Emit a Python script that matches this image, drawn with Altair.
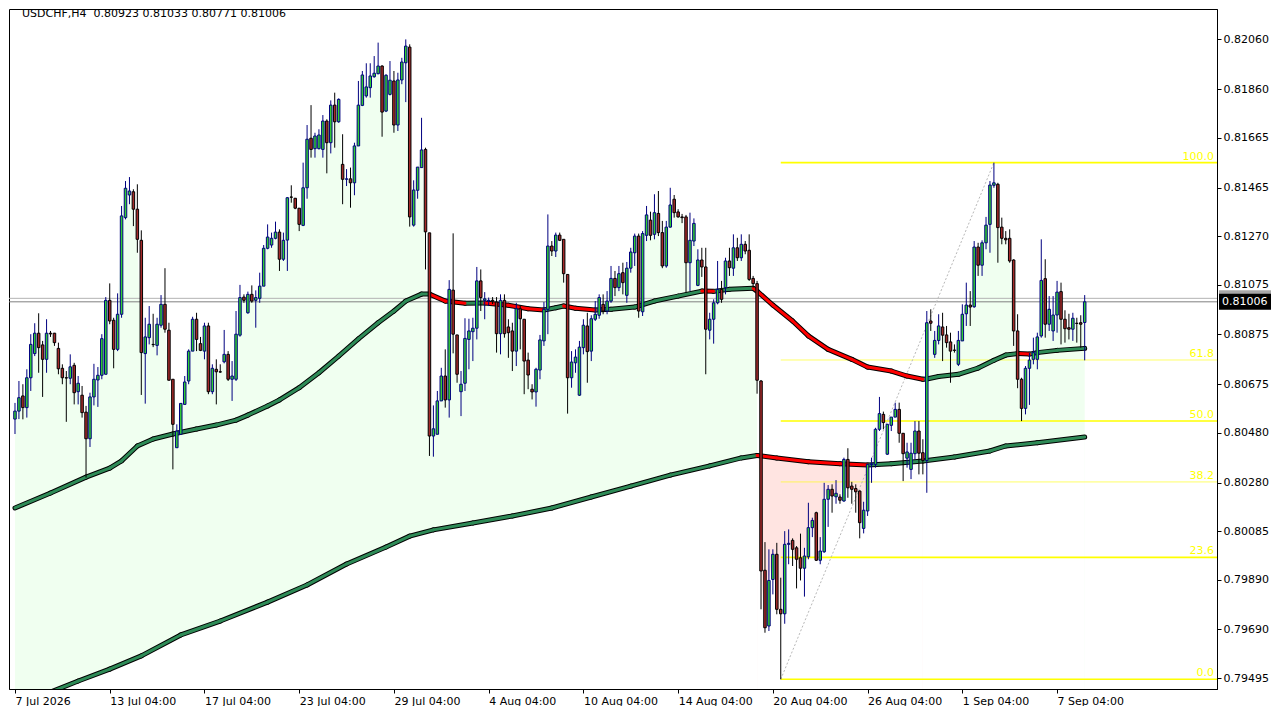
import altair as alt
import pandas as pd

# ---------------- data (prices in 1e-5 units) ----------------
opens = [
    80535, 80567, 80628, 80581, 80701, 80798, 80880, 80833, 80775, 80880,
    80880, 80819, 80739, 80701, 80699, 80751, 80645, 80631, 80563, 80456,
    80624, 80692, 80711, 80715, 81012, 80932, 80815, 80956, 81344, 81435,
    81448, 81378, 81253, 80798, 80862, 80835, 80831, 80912, 80996, 80892,
    80695, 80420, 80474, 80594, 80688, 80808, 80936, 80838, 80808, 80909,
    80645, 80735, 80725, 80765, 80795, 80695, 80695, 80872, 81025, 80962,
    81036, 81012, 81020, 81069, 81221, 81234, 81261, 81286, 81177, 81254,
    81427, 81422, 81382, 81313, 81464, 81663, 81621, 81621, 81618, 81732,
    81645, 81796, 81729, 81558, 81498, 81500, 81484, 81632, 81795, 81833,
    81866, 81910, 81922, 81953, 81772, 81839, 81893, 81716, 81897, 81966,
    82029, 81314, 81454, 81545, 81618, 81283, 80467, 80474, 80608, 80708,
    80612, 81053, 80873, 80645, 80679, 80855, 80886, 80900, 81090, 81012,
    81009, 81012, 81005, 80878, 81012, 80905, 80889, 80808, 80978, 80936,
    80772, 80655, 80644, 80732, 80849, 80976, 81230, 81210, 81274, 81257,
    81116, 80701, 80761, 80631, 80822, 80909, 80808, 80936, 80952, 80996,
    80969, 81009, 81100, 81063, 81123, 81032, 81141, 81203, 81270, 80966,
    81273, 81334, 81277, 81361, 81284, 81150, 81306, 81418, 81367, 81347,
    81347, 81163, 81250, 81072, 81174, 81146, 80892, 80936, 81002, 81056,
    81063, 81170, 81141, 81223, 81183, 81237, 81213, 81100, 81079, 80688,
    79928, 79704, 79891, 79992, 79771, 79753, 80032, 80048, 80018, 79978,
    79936, 79982, 80099, 80159, 79968, 80002, 80213, 80253, 80223, 80222,
    80206, 80373, 80266, 80256, 80246, 80096, 80166, 80353, 80353, 80494,
    80554, 80394, 80510, 80543, 80574, 80478, 80378, 80333, 80396, 80487,
    80400, 80369, 80929, 80795, 80851, 80905, 80873, 80845, 80812, 80755,
    80849, 80958, 80993, 80986, 81226, 81153, 81243, 81317, 81474, 81478,
    81306, 81261, 81261, 81174, 80889, 80695, 80578, 80739, 80775, 80775,
    80869, 81099, 80916, 80889, 80953, 81047, 80936, 80902, 80896, 80920,
    80922, 80923,
]
highs = [
    80600, 80688, 80675, 80735, 80876, 80920, 80960, 80849, 80936, 80889,
    80881, 80842, 80755, 80728, 80795, 80761, 80708, 80668, 80588, 80641,
    80757, 80744, 80876, 81025, 81080, 80942, 81040, 81391, 81491, 81507,
    81458, 81478, 81293, 80942, 80989, 80958, 80942, 81033, 81141, 80922,
    80695, 80514, 80598, 80708, 80815, 80946, 80962, 80865, 80922, 80922,
    80755, 80775, 80755, 80893, 80808, 80768, 80969, 81074, 81036, 81047,
    81072, 81052, 81123, 81234, 81317, 81284, 81328, 81297, 81284, 81427,
    81474, 81423, 81382, 81565, 81716, 81796, 81685, 81699, 81756, 81739,
    81815, 81846, 81823, 81679, 81539, 81545, 81645, 81893, 81933, 81964,
    81964, 81993, 82047, 81956, 81920, 81973, 81933, 81926, 81986, 82060,
    82040, 81494, 81547, 81745, 81625, 81283, 80590, 80648, 80741, 80815,
    81093, 81281, 80873, 80728, 80940, 80938, 80942, 81146, 81136, 81045,
    81023, 81025, 81025, 81036, 81036, 80936, 80922, 81002, 80992, 80936,
    80802, 80675, 80741, 80873, 81005, 81357, 81250, 81284, 81284, 81257,
    81116, 80808, 80815, 80849, 80936, 80962, 80952, 81009, 81036, 81036,
    81049, 81150, 81130, 81150, 81163, 81166, 81223, 81280, 81280, 81290,
    81391, 81368, 81438, 81451, 81331, 81331, 81464, 81435, 81378, 81359,
    81355, 81364, 81341, 81217, 81223, 81223, 80962, 81016, 81170, 81090,
    81183, 81223, 81277, 81263, 81277, 81250, 81277, 81110, 81090, 80692,
    80041, 80012, 80012, 80038, 79898, 80085, 80092, 80056, 80025, 80075,
    80018, 80199, 80139, 80163, 80061, 80279, 80270, 80273, 80290, 80233,
    80380, 80418, 80283, 80273, 80249, 80203, 80356, 80380, 80500, 80624,
    80565, 80516, 80543, 80601, 80601, 80479, 80440, 80440, 80527, 80527,
    80454, 80969, 80976, 80889, 80956, 80962, 80909, 80882, 80835, 80889,
    80996, 81083, 81049, 81250, 81243, 81253, 81347, 81491, 81565, 81484,
    81344, 81290, 81297, 81177, 80956, 80701, 80748, 80800, 80862, 80882,
    81257, 81177, 81029, 81029, 81090, 81083, 80972, 80958, 80962, 80942,
    80952, 81033,
]
lows = [
    80475, 80535, 80534, 80541, 80648, 80788, 80721, 80624, 80721, 80865,
    80829, 80715, 80675, 80524, 80675, 80594, 80594, 80541, 80300, 80423,
    80590, 80584, 80695, 80715, 80916, 80739, 80808, 80942, 81337, 81398,
    81310, 81203, 80632, 80597, 80835, 80824, 80791, 80902, 80882, 80691,
    80333, 80420, 80474, 80594, 80675, 80808, 80808, 80808, 80775, 80635,
    80635, 80594, 80721, 80759, 80688, 80608, 80688, 80866, 81002, 80958,
    81002, 80902, 81002, 81069, 81217, 81223, 81257, 81130, 81170, 81130,
    81404, 81378, 81290, 81310, 81420, 81585, 81585, 81618, 81585, 81522,
    81602, 81625, 81725, 81398, 81471, 81384, 81434, 81632, 81792, 81826,
    81826, 81906, 81920, 81669, 81768, 81835, 81685, 81692, 81880, 81808,
    81308, 81308, 81420, 81545, 81136, 80387, 80384, 80474, 80608, 80581,
    80541, 80799, 80681, 80547, 80648, 80735, 80768, 80855, 80969, 80936,
    80989, 80997, 80802, 80795, 80862, 80781, 80728, 80748, 80815, 80635,
    80655, 80614, 80585, 80695, 80829, 80876, 81190, 81186, 81250, 81083,
    80557, 80661, 80721, 80628, 80795, 80681, 80768, 80929, 80938, 80956,
    80956, 81002, 81029, 81049, 81036, 81002, 81123, 81150, 80942, 80949,
    81250, 81253, 81257, 81270, 81141, 81143, 81304, 81344, 81344, 81322,
    81043, 81049, 81230, 81069, 81106, 80715, 80855, 80838, 80996, 81002,
    81036, 81110, 81110, 81170, 81170, 81197, 81090, 81063, 80637, 79771,
    79677, 79684, 79831, 79751, 79490, 79713, 79952, 79945, 79855, 79887,
    79822, 79972, 80061, 79965, 79952, 79998, 80102, 80159, 80195, 80195,
    80203, 80219, 80195, 80159, 80056, 80076, 80146, 80279, 80340, 80487,
    80494, 80391, 80487, 80543, 80440, 80286, 80340, 80294, 80373, 80313,
    80313, 80239, 80889, 80781, 80835, 80768, 80822, 80681, 80802, 80748,
    80849, 80909, 80909, 80982, 81110, 81110, 81217, 81203, 81464, 81163,
    81237, 81237, 81163, 80829, 80659, 80527, 80554, 80592, 80755, 80735,
    80862, 80862, 80889, 80849, 80882, 80835, 80842, 80855, 80849, 80842,
    80822, 80771,
]
closes = [
    80567, 80621, 80581, 80701, 80835, 80880, 80822, 80775, 80880, 80877,
    80842, 80737, 80701, 80700, 80745, 80641, 80679, 80561, 80456, 80624,
    80695, 80711, 80858, 81012, 80929, 80815, 80956, 81351, 81462, 81451,
    81378, 81257, 80802, 80865, 80916, 80834, 80916, 80996, 80896, 80691,
    80514, 80487, 80598, 80684, 80808, 80936, 80855, 80811, 80909, 80645,
    80739, 80725, 80724, 80795, 80695, 80708, 80876, 81023, 81012, 81036,
    81009, 81023, 81069, 81221, 81266, 81261, 81286, 81177, 81253, 81424,
    81426, 81382, 81317, 81464, 81659, 81618, 81672, 81676, 81732, 81645,
    81796, 81729, 81819, 81498, 81500, 81484, 81632, 81796, 81917, 81869,
    81913, 81924, 81953, 81768, 81916, 81896, 81716, 81897, 81969, 82033,
    81347, 81455, 81547, 81616, 81287, 80467, 80496, 80608, 80708, 80612,
    81056, 80876, 80715, 80675, 80859, 80889, 80900, 81090, 81023, 81018,
    81012, 81009, 80878, 81012, 80878, 80882, 80808, 80978, 80938, 80768,
    80712, 80644, 80735, 80853, 80976, 81230, 81210, 81274, 81253, 81119,
    80701, 80764, 80784, 80824, 80912, 80806, 80938, 80956, 81023, 80969,
    81009, 81100, 81063, 81119, 81083, 81141, 81206, 81270, 80969, 81280,
    81355, 81273, 81364, 81284, 81150, 81306, 81395, 81364, 81347, 81344,
    81163, 81253, 81321, 81174, 81146, 80896, 80936, 81002, 81056, 81016,
    81170, 81143, 81223, 81183, 81237, 81210, 81096, 81079, 80691, 79925,
    79697, 79887, 79992, 79771, 79753, 80032, 80036, 80012, 79972, 79936,
    79985, 80099, 80128, 79968, 80005, 80213, 80253, 80226, 80237, 80209,
    80373, 80259, 80253, 80243, 80119, 80169, 80353, 80355, 80494, 80557,
    80521, 80514, 80543, 80574, 80478, 80396, 80403, 80398, 80487, 80398,
    80369, 80922, 80920, 80851, 80909, 80872, 80842, 80808, 80811, 80851,
    80956, 80993, 80985, 81226, 81153, 81243, 81314, 81475, 81484, 81304,
    81261, 81255, 81170, 80889, 80695, 80578, 80739, 80772, 80802, 80865,
    81092, 80916, 80976, 80953, 81045, 80936, 80898, 80896, 80940, 80919,
    80916, 81006,
]

# moving averages read at knots (bar index, price)
fast_idx = [0, 9, 18, 24, 27, 31, 35, 40, 46, 51, 56, 59, 64, 67, 72, 77, 82, 87, 92, 96,
            99, 103, 105, 109, 114, 119, 125, 130, 134, 137, 139, 142, 147, 151, 157, 162,
            168, 174, 177, 181, 187, 188, 192, 197, 201, 206, 212, 216, 222, 226, 230, 231,
            234, 239, 244, 248, 251, 254, 257, 259, 264, 271]
fast_val = [80178, 80238, 80302, 80338, 80367, 80427, 80455, 80475, 80495, 80511, 80531,
            80551, 80588, 80612, 80661, 80721, 80788, 80857, 80922, 80969, 81009, 81037,
            81037, 81009, 81000, 81001, 80992, 80978, 80973, 80982, 80989, 80980, 80973,
            80976, 80985, 81009, 81029, 81049, 81048, 81056, 81060, 81049, 80993, 80929,
            80869, 80815, 80775, 80744, 80728, 80708, 80695, 80696, 80706, 80715, 80740,
            80771, 80792, 80798, 80796, 80802, 80811, 80819]
slow_idx = [0, 4, 16, 24, 32, 42, 52, 64, 74, 84, 94, 100, 106, 116, 126, 136, 146, 156,
            166, 176, 184, 188, 193, 201, 209, 216, 222, 230, 238, 247, 251, 259, 271]
slow_val = [79387, 79407, 79483, 79531, 79584, 79668, 79724, 79800, 79869, 79953, 80021,
            80065, 80090, 80118, 80146, 80178, 80222, 80266, 80310, 80347, 80379, 80389,
            80379, 80364, 80356, 80351, 80356, 80367, 80383, 80407, 80427, 80440, 80463]

# cloud state between price and slow MA: (first bar, last bar, side)
fill_zones = [(0, 188, "above"), (188, 230, "below"), (231, 271, "above")]

# fibonacci retracement anchors
fib_low_idx, fib_low = 194, 79490
fib_high_idx, fib_high = 248, 81565
fib_levels = [0.0, 23.6, 38.2, 50.0, 61.8, 100.0]

ask_price = 81020
symbol = "USDCHF,H4"

x_label_idx = [0, 24, 48, 72, 96, 120, 144, 168, 192, 216, 240, 264]
x_labels = ["7 Jul 2026", "13 Jul 04:00", "17 Jul 04:00", "23 Jul 04:00", "29 Jul 04:00",
            "4 Aug 04:00", "10 Aug 04:00", "14 Aug 04:00", "20 Aug 04:00", "26 Aug 04:00",
            "1 Sep 04:00", "7 Sep 04:00"]
y_ticks = [0.82060, 0.81860, 0.81665, 0.81465, 0.81270, 0.81075, 0.80875, 0.80675,
           0.80480, 0.80280, 0.80085, 0.79890, 0.79690, 0.79495]

# ---------------- frames ----------------
P = 1e-5
n = len(closes)
df = pd.DataFrame({
    "i": list(range(n)),
    "o": [v * P for v in opens],
    "h": [v * P for v in highs],
    "l": [v * P for v in lows],
    "c": [v * P for v in closes],
})
df["top"] = df[["o", "c"]].max(axis=1)
df["bot"] = df[["o", "c"]].min(axis=1)
bull = df[df["c"] >= df["o"]]
bear = df[df["c"] < df["o"]]

W, H = 1208, 680
Y_LO, Y_HI = 0.79451, 0.82182
X_LO, X_HI = -0.25, 303.25
FONT = "DejaVu Sans"

xs = alt.Scale(domain=[X_LO, X_HI], nice=False, zero=False)
ys = alt.Scale(domain=[Y_LO, Y_HI], nice=False, zero=False)
label_expr = "[" + ",".join("'" + s + "'" for s in x_labels) + "][round(datum.value / 24)]"
xax = alt.Axis(values=x_label_idx, labelExpr=label_expr, title=None, grid=False, tickSize=4,
               labelAlign="left", labelBaseline="top", labelPadding=2, labelOverlap=False,
               labelFlush=False)
yax = alt.Axis(orient="right", values=y_ticks, format=".5f", title=None, grid=False,
               tickSize=4, labelPadding=2, labelOverlap=False, labelFlush=False)


def ex(f):
    return alt.X(f + ":Q", scale=xs, axis=xax)


def ey(f):
    return alt.Y(f + ":Q", scale=ys, axis=yax)


# cloud fill
zone_rows = []
for z, (a, b, side) in enumerate(fill_zones):
    for i in range(a, b + 1):
        zone_rows.append({"i": i, "c": closes[i] * P, "zone": z, "side": side, "base": Y_LO})
zdf = pd.DataFrame(zone_rows)
above = zdf[zdf["side"] == "above"]
below = zdf[zdf["side"] == "below"]
slow_df = pd.DataFrame({"i": slow_idx, "v": [v * P for v in slow_val], "base": Y_LO})
b_lo, b_hi = below["i"].min(), below["i"].max()
slow_bear = slow_df[(slow_df["i"] >= b_lo) & (slow_df["i"] <= b_hi)]

green_fill = alt.Chart(above).mark_area(color="#F0FFF0", opacity=1, clip=True).encode(
    x=ex("i"), y=ey("c"), y2="base", detail="zone:N")
white_slow = alt.Chart(slow_df).mark_area(color="white", opacity=1, clip=True).encode(
    x=ex("i"), y=ey("v"), y2="base")
pink_fill = alt.Chart(slow_bear).mark_area(color="#FFE4E1", opacity=1, clip=True).encode(
    x=ex("i"), y=ey("v"), y2="base")
white_close = alt.Chart(below).mark_area(color="white", opacity=1, clip=True).encode(
    x=ex("i"), y=ey("c"), y2="base")

# price lines
price_df = pd.DataFrame({"p": [ask_price * P, closes[-1] * P], "kind": ["ask", "bid"]})
ask_line = alt.Chart(price_df[price_df["kind"] == "ask"]).mark_rule(
    color="#B4B4B4", strokeWidth=1).encode(x=alt.value(0), x2=alt.value(W), y=ey("p"))
bid_line = alt.Chart(price_df[price_df["kind"] == "bid"]).mark_rule(
    color="#808080", strokeWidth=1).encode(x=alt.value(0), x2=alt.value(W), y=ey("p"))

# fibonacci
fib_df = pd.DataFrame({
    "lvl": fib_levels,
    "p": [(fib_low + (fib_high - fib_low) * l / 100.0) * P for l in fib_levels],
    "i": fib_low_idx,
    "label": ["%.1f" % l for l in fib_levels],
})
major = fib_df["lvl"].isin([0.0, 23.6, 50.0, 100.0])
fib_major = alt.Chart(fib_df[major]).mark_rule(color="#FFFF00", strokeWidth=1.6).encode(
    x=ex("i"), x2=alt.value(W), y=ey("p"))
fib_minor = alt.Chart(fib_df[~major]).mark_rule(color="#FFFF00", strokeWidth=1, opacity=0.6).encode(
    x=ex("i"), x2=alt.value(W), y=ey("p"))
fib_text = alt.Chart(fib_df).mark_text(align="right", baseline="bottom", color="#FFFF00",
                                       fontSize=11, font=FONT, dy=-1).encode(
    x=alt.value(W - 3), y=ey("p"), text="label:N")
trend_df = pd.DataFrame({"i": [fib_low_idx], "i2": [fib_high_idx],
                         "p": [fib_low * P], "p2": [fib_high * P]})
trend = alt.Chart(trend_df).mark_rule(color="#B8B8B8", strokeWidth=1, strokeDash=[2, 2]).encode(
    x=ex("i"), x2="i2", y=ey("p"), y2="p2")


# moving averages (segments coloured by slope)
def segments(idx, vals):
    rows = []
    for k in range(len(idx) - 1):
        rows.append({"i": idx[k], "i2": idx[k + 1], "v": vals[k] * P, "v2": vals[k + 1] * P,
                     "dir": "down" if vals[k + 1] < vals[k] else "up"})
    return pd.DataFrame(rows)


ma = pd.concat([segments(fast_idx, fast_val), segments(slow_idx, slow_val)], ignore_index=True)
ma_black = alt.Chart(ma).mark_rule(color="black", strokeWidth=5, strokeCap="round", clip=True).encode(
    x=ex("i"), x2="i2", y=ey("v"), y2="v2")
ma_up = alt.Chart(ma[ma["dir"] == "up"]).mark_rule(
    color="#2E8B57", strokeWidth=3, strokeCap="round", clip=True).encode(
    x=ex("i"), x2="i2", y=ey("v"), y2="v2")
ma_down = alt.Chart(ma[ma["dir"] == "down"]).mark_rule(
    color="#FF0000", strokeWidth=3, strokeCap="round", clip=True).encode(
    x=ex("i"), x2="i2", y=ey("v"), y2="v2")

# candles
wick_bull = alt.Chart(bull).mark_rule(color="#000080", strokeWidth=1).encode(
    x=ex("i"), y=ey("l"), y2="h")
wick_bear = alt.Chart(bear).mark_rule(color="#000000", strokeWidth=1).encode(
    x=ex("i"), y=ey("l"), y2="h")
body_bull = alt.Chart(bull).mark_bar(size=2.5, fill="#32CD32", stroke="#000080", strokeWidth=1).encode(
    x=ex("i"), y=ey("bot"), y2="top")
body_bear = alt.Chart(bear).mark_bar(size=2.5, fill="#A52A2A", stroke="#000000", strokeWidth=1).encode(
    x=ex("i"), y=ey("bot"), y2="top")

# header text and price boxes
last = df.iloc[-1]
header = "%s\u00a0 %.5f %.5f %.5f %.5f" % (symbol, last["o"], last["h"], last["l"], last["c"])
title_df = pd.DataFrame({"t": [header]})
title = alt.Chart(title_df).mark_text(align="left", baseline="middle", fontSize=11, font=FONT,
                                      color="black").encode(
    x=alt.value(13), y=alt.value(5), text="t:N")

box_df = price_df.copy()
box_df["label"] = ["%.5f" % v for v in box_df["p"]]
ask_box = alt.Chart(box_df[box_df["kind"] == "ask"]).mark_tick(
    orient="horizontal", size=52, thickness=16, color="#A8A8A8", opacity=1).encode(
    x=alt.value(W + 28), y=ey("p"))
bid_box = alt.Chart(box_df[box_df["kind"] == "bid"]).mark_tick(
    orient="horizontal", size=52, thickness=16, color="#000000", opacity=1).encode(
    x=alt.value(W + 28), y=ey("p"))
bid_text = alt.Chart(box_df[box_df["kind"] == "bid"]).mark_text(
    align="left", baseline="middle", fontSize=11, font=FONT, color="white").encode(
    x=alt.value(W + 5), y=ey("p"), text="label:N")

chart = alt.layer(
    green_fill, white_slow, pink_fill, white_close,
    ask_line, bid_line, fib_major, fib_minor, trend,
    ma_black, ma_up, ma_down,
    wick_bull, wick_bear, body_bull, body_bear,
    fib_text, title, ask_box, bid_box, bid_text,
).properties(
    width=W, height=H, padding=0, background="white"
).configure_view(
    stroke="black", strokeWidth=1
).configure_axis(
    labelFont=FONT, labelFontSize=11, labelColor="black", tickColor="black",
    domainColor="black", domainWidth=1, tickWidth=1
)

chart.save("out.html", embed_options={"renderer": "svg", "actions": False})
